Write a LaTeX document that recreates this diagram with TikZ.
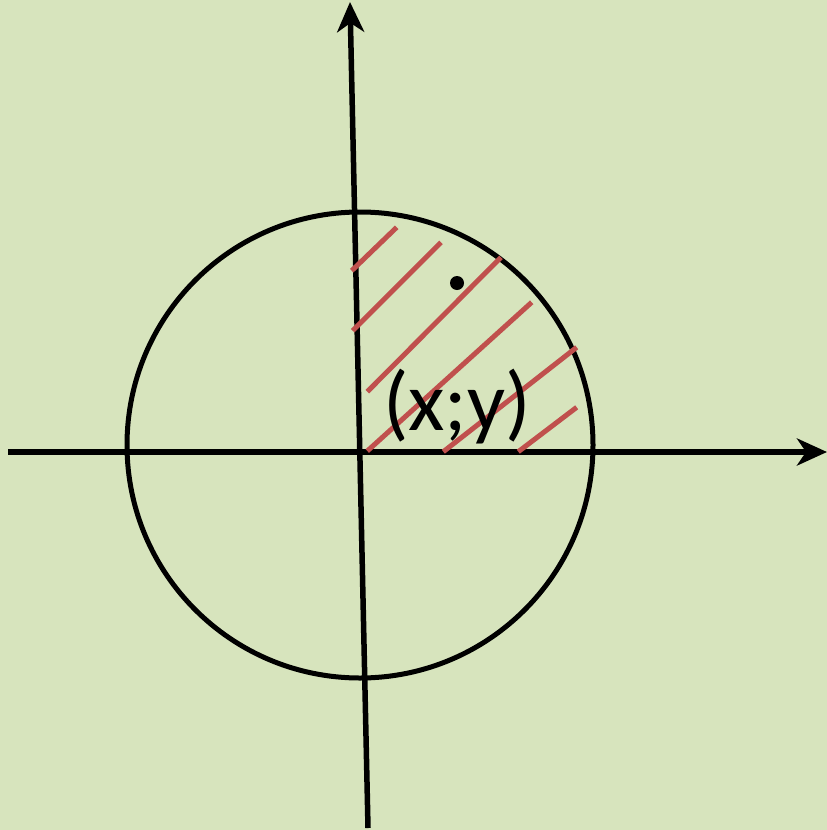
\documentclass[tikz,border=0pt]{standalone}
\usepackage{fontspec}
\setmainfont{Carlito}
\usetikzlibrary{arrows.meta}
\definecolor{bg}{HTML}{D7E4BD}
\definecolor{hatch}{HTML}{C0504D}
\begin{document}
\begin{tikzpicture}[x=1pt,y=-1pt,
  axis/.style={line width=5.5pt,-{Stealth[length=30pt,width=27pt,inset=9pt]}},
  hatchline/.style={hatch,line width=5pt},
  circ/.style={line width=5pt}]
\fill[bg] (0,0) rectangle (827,830);
\useasboundingbox (0,0) rectangle (827,830);
\coordinate (O) at (360,445);
\coordinate (xs) at (8,452);
\coordinate (xe) at (827,452);
\coordinate (ys) at (368,828);
\coordinate (ye) at (350,2);
\draw[circ] (O) circle[radius=233];
\draw[axis] (xs) -- (xe);
\draw[axis] (ys) -- (ye);
\draw[hatchline] (351.7,270.7) -- (396.7,227.3);
\draw[hatchline] (352.7,330.7) -- (441,242.3);
\draw[hatchline] (367.3,391.7) -- (501,257.3);
\draw[hatchline] (367.3,451) -- (531.7,302.3);
\draw[hatchline] (443.3,451.7) -- (576.7,347.3);
\draw[hatchline] (518.3,451.7) -- (576.7,407.3);
\fill (457,283) circle[radius=7];
\node[font=\fontsize{84}{92}\selectfont,inner sep=0pt] (lbl) at (457,407) {(x;y)};
\end{tikzpicture}
\end{document}
